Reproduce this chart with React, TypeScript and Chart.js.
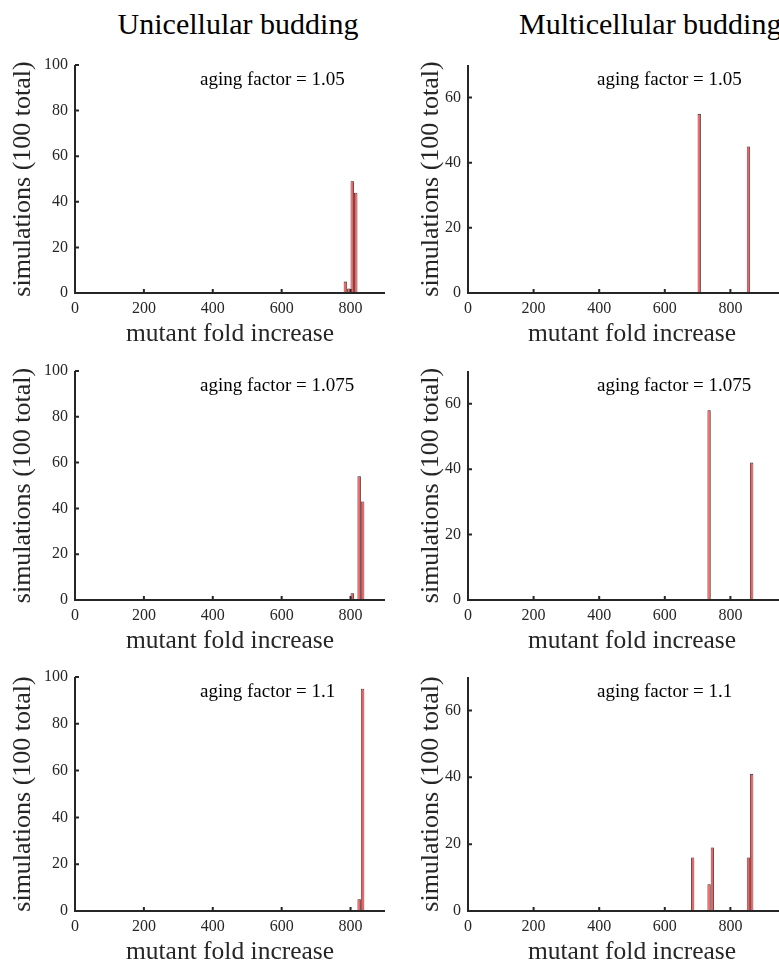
import React, { useEffect, useRef } from "react";
import { Chart, registerables } from "chart.js";

Chart.register(...registerables);

// ---------- data (histogram bin centres and counts, 100 simulations each) ----------
const uniBins105 = [785, 795, 805, 815];
const uniCounts105 = [5, 2, 49, 44];

const uniBins1075 = [805, 815, 825, 835];
const uniCounts1075 = [3, 0, 54, 43];

const uniBins11 = [825, 835];
const uniCounts11 = [5, 95];

const multiBins105 = [705, 715, 725, 735, 745, 755, 765, 775, 785, 795, 805, 815, 825, 835, 845, 855];
const multiCounts105 = [55, 0, 0, 0, 0, 0, 0, 0, 0, 0, 0, 0, 0, 0, 0, 45];

const multiBins1075 = [735, 745, 755, 765, 775, 785, 795, 805, 815, 825, 835, 845, 855, 865];
const multiCounts1075 = [58, 0, 0, 0, 0, 0, 0, 0, 0, 0, 0, 0, 0, 42];

const multiBins11 = [685, 695, 705, 715, 725, 735, 745, 755, 765, 775, 785, 795, 805, 815, 825, 835, 845, 855, 865];
const multiCounts11 = [16, 0, 0, 0, 0, 8, 19, 0, 0, 0, 0, 0, 0, 0, 0, 0, 0, 16, 41];

const agingFactors = ["1.05", "1.075", "1.1"];
const columnTitles = ["Unicellular budding", "Multicellular budding"];
const xTitle = "mutant fold increase";
const yTitle = "simulations (100 total)";

// ---------- styling ----------
const SERIF = "'Liberation Serif', 'Times New Roman', serif";
const AXIS = "#262626";

const axesPlugin = {
  id: "matlabAxes",
  afterDatasetsDraw(chart: any, _args: any, opts: any) {
    const { ctx, chartArea, scales } = chart;
    const { left, right, top, bottom } = chartArea;
    const x = scales.x;
    const y = scales.y;
    ctx.save();
    ctx.strokeStyle = AXIS;
    ctx.lineWidth = 2;
    ctx.lineCap = "butt";
    ctx.beginPath();
    ctx.moveTo(left, top);
    ctx.lineTo(left, bottom);
    ctx.lineTo(right, bottom);
    ctx.stroke();
    ctx.beginPath();
    x.ticks.forEach((t: any) => {
      const px = x.getPixelForValue(t.value);
      ctx.moveTo(px, bottom);
      ctx.lineTo(px, bottom - 4);
    });
    y.ticks.forEach((t: any) => {
      const py = y.getPixelForValue(t.value);
      ctx.moveTo(left, py);
      ctx.lineTo(left + 4, py);
    });
    ctx.stroke();
    if (opts && opts.text) {
      ctx.fillStyle = "#000";
      ctx.font = `${opts.size}px ${SERIF}`;
      ctx.textBaseline = "middle";
      ctx.textAlign = "left";
      ctx.fillText(opts.text, left + opts.dx, top + opts.dy);
    }
    ctx.restore();
  },
};

type PanelProps = {
  bins: number[];
  counts: number[];
  xMax: number;
  yMax: number;
  left: number;
  top: number;
  width: number;
  plotLeft: number;
  plotRight: number;
  plotTop: number;
  plotBottom: number;
  yTitlePad: number;
  label: string;
  annDx: number;
};

function Panel(p: PanelProps) {
  const ref = useRef<HTMLCanvasElement | null>(null);
  const padTop = p.plotTop - p.top;
  const xAxisH = 58;
  const height = p.plotBottom - p.top + xAxisH;
  useEffect(() => {
    if (!ref.current) return;
    const yW = p.plotLeft - p.left;
    const rightPad = p.left + p.width - p.plotRight;
    const chart = new Chart(ref.current, {
      type: "bar",
      data: {
        datasets: [
          {
            data: p.bins.map((b, i) => ({ x: b, y: p.counts[i] })),
            backgroundColor: "rgb(255, 90, 90)",
            borderColor: "#1e1e1e",
            borderWidth: 0.8,
            barPercentage: 1,
            categoryPercentage: 1,
            inflateAmount: 0,
            grouped: false,
          } as any,
        ],
      },
      options: {
        animation: false,
        responsive: false,
        maintainAspectRatio: false,
        devicePixelRatio: 1,
        layout: { padding: { top: padTop, right: rightPad, left: 0, bottom: 0 } },
        plugins: {
          legend: { display: false },
          tooltip: { enabled: false },
          matlabAxes: { text: "aging factor = " + p.label, dx: p.annDx, dy: 15, size: 19 },
        } as any,
        scales: {
          x: {
            type: "linear",
            offset: false,
            min: 0,
            max: p.xMax,
            grid: { display: false, offset: false, drawTicks: false },
            border: { display: false },
            ticks: {
              stepSize: 200,
              includeBounds: false,
              autoSkip: false,
              maxRotation: 0,
              padding: 6,
              color: AXIS,
              font: { family: SERIF, size: 16 },
            },
            title: {
              display: true,
              text: xTitle,
              color: AXIS,
              font: { family: SERIF, size: 25.5 },
              padding: { top: 0, bottom: 1 },
            },
            afterFit: (s: any) => {
              s.height = xAxisH;
            },
          },
          y: {
            type: "linear",
            min: 0,
            max: p.yMax,
            grid: { display: false, drawTicks: false },
            border: { display: false },
            ticks: {
              stepSize: 20,
              includeBounds: false,
              padding: 7,
              color: AXIS,
              font: { family: SERIF, size: 16 },
            },
            title: {
              display: true,
              text: yTitle,
              color: AXIS,
              font: { family: SERIF, size: 26 },
              padding: { top: p.yTitlePad, bottom: 0 },
            },
            afterFit: (s: any) => {
              s.width = yW;
            },
          },
        } as any,
      },
      plugins: [axesPlugin],
    });
    return () => chart.destroy();
  }, []);
  return (
    <canvas
      ref={ref}
      width={p.width}
      height={height}
      style={{ position: "absolute", left: p.left, top: p.top, width: p.width, height }}
    />
  );
}

const rows = [
  { plotTop: 65, plotBottom: 293 },
  { plotTop: 371, plotBottom: 600 },
  { plotTop: 677, plotBottom: 911 },
];

export default function App() {
  const uni = [
    [uniBins105, uniCounts105],
    [uniBins1075, uniCounts1075],
    [uniBins11, uniCounts11],
  ];
  const multi = [
    [multiBins105, multiCounts105],
    [multiBins1075, multiCounts1075],
    [multiBins11, multiCounts11],
  ];
  return (
    <div
      style={{
        position: "absolute",
        left: 0,
        top: 0,
        width: 779,
        height: 965,
        overflow: "hidden",
        background: "#fff",
      }}
    >
      <div
        style={{
          position: "absolute",
          left: 0,
          width: 476,
          top: 7,
          textAlign: "center",
          font: `30px ${SERIF}`,
          lineHeight: "34px",
          color: "#000",
        }}
      >
        {columnTitles[0]}
      </div>
      <div
        style={{
          position: "absolute",
          left: 519,
          top: 7,
          whiteSpace: "nowrap",
          font: `30px ${SERIF}`,
          lineHeight: "34px",
          color: "#000",
        }}
      >
        {columnTitles[1]}
      </div>
      {rows.map((r, i) => (
        <Panel
          key={"u" + i}
          bins={uni[i][0] as number[]}
          counts={uni[i][1] as number[]}
          xMax={900}
          yMax={100}
          left={0}
          top={r.plotTop - 24}
          width={400}
          plotLeft={75}
          plotRight={385}
          plotTop={r.plotTop}
          plotBottom={r.plotBottom}
          yTitlePad={8}
          label={agingFactors[i]}
          annDx={125}
        />
      ))}
      {rows.map((r, i) => (
        <Panel
          key={"m" + i}
          bins={multi[i][0] as number[]}
          counts={multi[i][1] as number[]}
          xMax={1000}
          yMax={70}
          left={400}
          top={r.plotTop - 24}
          width={420}
          plotLeft={468}
          plotRight={803}
          plotTop={r.plotTop}
          plotBottom={r.plotBottom}
          yTitlePad={16}
          label={agingFactors[i]}
          annDx={129}
        />
      ))}
    </div>
  );
}
